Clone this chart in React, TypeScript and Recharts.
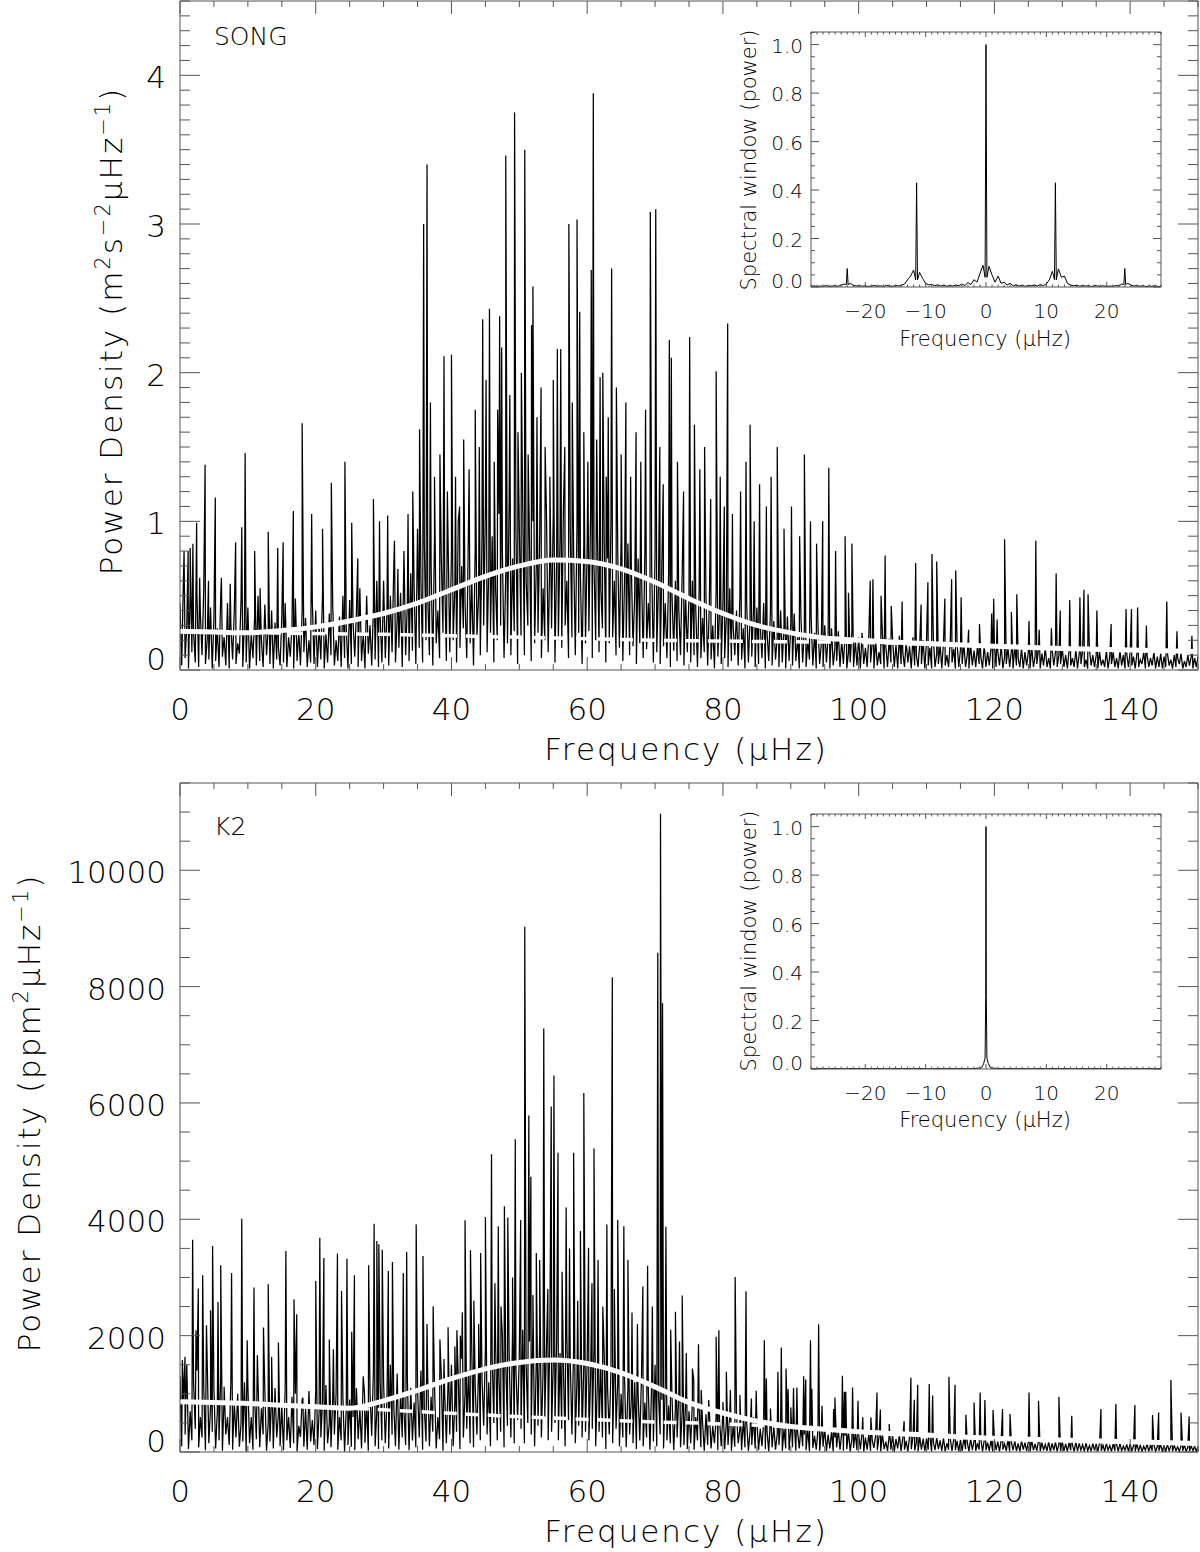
import React from "react";
import { ComposedChart, Line, XAxis, YAxis } from "recharts";

const FONT = "'DejaVu Sans', 'Liberation Sans', sans-serif";
const FRAME = "#555";

// ---------- SONG power density (m^2 s^-2 uHz^-1) ----------
// noise heights on a 0.5 uHz grid, 0..150
const songNoiseHi = [
  0.45, 0.6, 0.3, 0.52, 0.25, 0.5, 0.38, 0.55, 0.2, 0.42,
  0.35, 0.28, 0.5, 0.22, 0.45, 0.3, 0.4, 0.18, 0.48, 0.33,
  0.42, 0.25, 0.36, 0.5, 0.2, 0.44, 0.28, 0.4, 0.32, 0.15,
  0.36, 0.45, 0.22, 0.3, 0.48, 0.26, 0.4, 0.35, 0.2, 0.46,
  0.4, 0.3, 0.52, 0.24, 0.38, 0.44, 0.2, 0.36, 0.5, 0.28,
  0.47, 0.32, 0.4, 0.55, 0.25, 0.5, 0.3, 0.42, 0.6, 0.35,
  0.6, 0.4, 0.5, 0.7, 0.35, 0.52, 0.8, 0.45, 0.65, 0.55,
  0.95, 0.6, 0.85, 0.5, 0.7, 0.9, 0.4, 0.75, 0.62, 0.88,
  0.8, 0.55, 1.0, 0.7, 0.45, 0.95, 0.6, 0.85, 0.5, 0.9,
  1.1, 0.7, 0.9, 0.55, 1.05, 0.8, 0.65, 1.15, 0.75, 0.95,
  0.95, 1.1, 0.6, 0.85, 1.0, 0.7, 0.9, 0.55, 1.05, 0.8,
  1.05, 0.75, 0.9, 1.1, 0.6, 0.95, 0.8, 1.0, 0.65, 0.85,
  0.85, 1.05, 0.7, 0.95, 0.55, 0.9, 0.75, 1.0, 0.6, 0.8,
  0.9, 0.6, 0.85, 0.7, 0.5, 0.75, 0.65, 0.8, 0.45, 0.7,
  0.8, 0.55, 0.7, 0.45, 0.65, 0.5, 0.6, 0.4, 0.65, 0.5,
  0.5, 0.6, 0.4, 0.55, 0.35, 0.5, 0.45, 0.3, 0.55, 0.4,
  0.45, 0.35, 0.55, 0.3, 0.4, 0.5, 0.28, 0.45, 0.35, 0.4,
  0.42, 0.3, 0.45, 0.25, 0.4, 0.33, 0.22, 0.4, 0.3, 0.36,
  0.3, 0.38, 0.22, 0.35, 0.28, 0.2, 0.35, 0.25, 0.3, 0.18,
  0.3, 0.22, 0.28, 0.15, 0.26, 0.2, 0.24, 0.12, 0.26, 0.2,
  0.22, 0.25, 0.15, 0.24, 0.18, 0.2, 0.12, 0.24, 0.16, 0.21,
  0.21, 0.17, 0.23, 0.12, 0.19, 0.16, 0.22, 0.1, 0.18, 0.2,
  0.2, 0.15, 0.22, 0.11, 0.17, 0.19, 0.1, 0.2, 0.14, 0.18,
  0.14, 0.18, 0.1, 0.17, 0.13, 0.16, 0.09, 0.17, 0.12, 0.15,
  0.16, 0.12, 0.17, 0.09, 0.15, 0.13, 0.16, 0.08, 0.15, 0.12,
  0.12, 0.16, 0.09, 0.14, 0.11, 0.15, 0.08, 0.14, 0.12, 0.1,
  0.15, 0.1, 0.13, 0.08, 0.14, 0.11, 0.13, 0.07, 0.14, 0.1,
  0.1, 0.12, 0.07, 0.13, 0.09, 0.12, 0.08, 0.13, 0.1, 0.11,
  0.12, 0.09, 0.11, 0.07, 0.12, 0.1, 0.08, 0.12, 0.09, 0.11,
  0.09, 0.11, 0.07, 0.1, 0.08, 0.11, 0.06, 0.1, 0.09, 0.08,
  0.09,
];
// noise troughs on the offset grid 0.25, 0.75, ... 149.75
const songNoiseLo = [
  0.03, 0.08, 0.01, 0.12, 0.05, 0.02, 0.1, 0.04, 0.07, 0.01,
  0.06, 0.02, 0.09, 0.03, 0.01, 0.07, 0.04, 0.11, 0.02, 0.05,
  0.01, 0.08, 0.03, 0.06, 0.02, 0.1, 0.04, 0.01, 0.07, 0.03,
  0.05, 0.02, 0.09, 0.01, 0.06, 0.03, 0.12, 0.02, 0.05, 0.04,
  0.02, 0.07, 0.01, 0.05, 0.1, 0.03, 0.06, 0.02, 0.08, 0.01,
  0.04, 0.09, 0.02, 0.06, 0.01, 0.11, 0.03, 0.07, 0.02, 0.05,
  0.08, 0.03, 0.12, 0.05, 0.15, 0.02, 0.1, 0.06, 0.13, 0.04,
  0.15, 0.05, 0.2, 0.1, 0.03, 0.18, 0.08, 0.25, 0.06, 0.12,
  0.2, 0.05, 0.15, 0.28, 0.08, 0.18, 0.03, 0.22, 0.1, 0.3,
  0.12, 0.25, 0.05, 0.2, 0.3, 0.08, 0.18, 0.1, 0.26, 0.04,
  0.22, 0.1, 0.3, 0.06, 0.18, 0.25, 0.08, 0.2, 0.12, 0.28,
  0.05, 0.2, 0.15, 0.3, 0.08, 0.22, 0.1, 0.25, 0.04, 0.18,
  0.26, 0.08, 0.2, 0.12, 0.28, 0.05, 0.18, 0.22, 0.1, 0.15,
  0.06, 0.2, 0.1, 0.16, 0.04, 0.18, 0.08, 0.14, 0.2, 0.05,
  0.12, 0.04, 0.16, 0.08, 0.02, 0.13, 0.06, 0.1, 0.03, 0.12,
  0.05, 0.1, 0.02, 0.08, 0.12, 0.03, 0.07, 0.01, 0.09, 0.04,
  0.08, 0.02, 0.06, 0.1, 0.03, 0.07, 0.01, 0.05, 0.09, 0.02,
  0.04, 0.08, 0.01, 0.06, 0.03, 0.07, 0.02, 0.05, 0.01, 0.06,
  0.03, 0.06, 0.01, 0.05, 0.02, 0.07, 0.03, 0.01, 0.04, 0.02,
  0.05, 0.01, 0.03, 0.06, 0.02, 0.04, 0.01, 0.05, 0.02, 0.03,
  0.01, 0.04, 0.02, 0.05, 0.01, 0.03, 0.04, 0.01, 0.02, 0.05,
  0.02, 0.01, 0.04, 0.02, 0.05, 0.01, 0.03, 0.02, 0.04, 0.01,
  0.03, 0.01, 0.02, 0.04, 0.01, 0.03, 0.02, 0.05, 0.01, 0.02,
  0.04, 0.02, 0.01, 0.03, 0.02, 0.04, 0.01, 0.02, 0.03, 0.01,
  0.02, 0.03, 0.01, 0.04, 0.02, 0.01, 0.03, 0.02, 0.01, 0.03,
  0.01, 0.02, 0.04, 0.01, 0.03, 0.02, 0.01, 0.03, 0.02, 0.04,
  0.02, 0.01, 0.03, 0.02, 0.01, 0.04, 0.02, 0.01, 0.03, 0.02,
  0.01, 0.03, 0.02, 0.01, 0.04, 0.02, 0.01, 0.03, 0.01, 0.02,
  0.03, 0.01, 0.02, 0.04, 0.01, 0.02, 0.03, 0.01, 0.02, 0.01,
  0.02, 0.03, 0.01, 0.02, 0.04, 0.01, 0.02, 0.03, 0.01, 0.02,
];

// individual spikes [frequency uHz, power]
const songPeaks = [
  [0.6, 0.8], [1.2, 0.8], [1.5, 0.82], [1.9, 0.85], [2.45, 0.99], [2.9, 0.62], [3.7, 1.38],
  [4.2, 0.6], [5.2, 1.16], [6.1, 0.62], [7.4, 0.58], [8.2, 0.86], [9.1, 0.96], [9.6, 1.46],
  [11.0, 0.8], [11.8, 0.55], [13.0, 0.93], [14.4, 0.82], [15.2, 0.86], [16.7, 1.07],
  [18.0, 1.66], [19.4, 1.05], [21.0, 0.95], [22.3, 1.26], [24.3, 1.4], [25.3, 0.99],
  [26.2, 0.75], [28.5, 1.15], [29.4, 1.0], [30.6, 1.04], [31.6, 0.87], [32.1, 0.68],
  [33.6, 1.05], [34.3, 1.2], [35.3, 1.62], [35.9, 3.0], [36.4, 3.4], [36.9, 1.8],
  [37.5, 1.3], [38.3, 1.45], [38.9, 2.11], [39.4, 1.2], [40.0, 2.12], [40.6, 1.3],
  [41.2, 1.1], [41.8, 1.55], [42.6, 1.35], [43.5, 1.75], [44.1, 1.5], [44.6, 2.36],
  [45.1, 1.95], [45.6, 2.43], [46.3, 1.4], [46.8, 1.75], [47.1, 2.38], [47.4, 2.17],
  [48.0, 3.46], [48.6, 1.85], [49.3, 3.75], [49.8, 1.6], [50.3, 2.0], [50.8, 3.5],
  [51.3, 1.45], [51.8, 2.32], [52.0, 2.58], [52.6, 1.7], [53.2, 1.9], [53.8, 1.5],
  [54.5, 1.3], [55.0, 1.95], [55.6, 2.16], [56.1, 2.16], [56.7, 1.5], [57.3, 3.0],
  [57.8, 1.8], [58.5, 3.03], [58.9, 2.41], [59.5, 1.6], [60.1, 1.4], [60.6, 2.69],
  [60.9, 3.88], [61.4, 1.55], [61.9, 1.97], [62.3, 2.0], [62.8, 1.3], [63.1, 1.7],
  [63.6, 2.7], [64.3, 1.9], [65.0, 1.45], [65.7, 1.8], [66.4, 1.3], [67.2, 1.6],
  [67.9, 1.4], [68.6, 1.75], [69.3, 3.08], [70.1, 3.1], [70.7, 1.5], [71.2, 1.25],
  [72.1, 2.22], [72.4, 2.1], [73.3, 1.4], [74.2, 1.2], [75.1, 2.24], [75.8, 1.65],
  [76.6, 1.35], [77.3, 1.5], [78.2, 1.15], [79.0, 2.01], [79.6, 1.3], [80.2, 1.1],
  [80.7, 2.33], [81.4, 1.05], [82.6, 1.2], [83.4, 1.4], [84.0, 1.65], [84.6, 1.0],
  [85.4, 1.25], [86.4, 1.1], [87.1, 1.3], [88.0, 1.5], [89.0, 0.95], [90.1, 1.1],
  [91.3, 0.9], [92.0, 1.45], [92.9, 1.0], [93.8, 0.85], [94.7, 1.0], [95.6, 1.36],
  [96.6, 0.8], [98.0, 0.9], [98.5, 0.52], [99.0, 0.85], [101.7, 0.6], [102.1, 0.61],
  [103.3, 0.5], [103.9, 0.77], [104.8, 0.43], [106.4, 0.46], [108.4, 0.72], [109.2, 0.44],
  [110.2, 0.59], [110.8, 0.78], [111.5, 0.73], [112.7, 0.48], [113.7, 0.61], [114.3, 0.67],
  [115.1, 0.49], [116.2, 0.27], [117.8, 0.31], [119.6, 0.38], [119.9, 0.48], [120.4, 0.34],
  [121.5, 0.88], [122.5, 0.39], [123.3, 0.51], [125.1, 0.33], [126.1, 0.87], [126.6, 0.27],
  [128.4, 0.28], [129.1, 0.65], [129.7, 0.4], [131.1, 0.47], [132.6, 0.49], [133.2, 0.54],
  [133.8, 0.51], [135.1, 0.4], [137.2, 0.31], [139.4, 0.41], [140.2, 0.41], [141.1, 0.42],
  [142.4, 0.3], [145.4, 0.46], [146.9, 0.26], [149.1, 0.23],
];

const fitFreq = [0, 5, 10, 15, 20, 25, 30, 35, 40, 45, 50, 55, 60, 65, 70, 75, 80, 85, 90, 95, 100, 110, 120, 130, 140, 150];
const songFit = [0.26, 0.255, 0.25, 0.265, 0.29, 0.33, 0.38, 0.45, 0.54, 0.63, 0.7, 0.74, 0.73, 0.68, 0.59, 0.48, 0.38, 0.3, 0.25, 0.215, 0.2, 0.178, 0.16, 0.145, 0.135, 0.125];
const songBg = [0.26, 0.255, 0.25, 0.248, 0.245, 0.242, 0.24, 0.235, 0.23, 0.225, 0.22, 0.215, 0.21, 0.205, 0.2, 0.197, 0.195, 0.192, 0.19, 0.188, 0.186, 0.175, 0.16, 0.145, 0.135, 0.125];

// ---------- K2 power density (ppm^2 uHz^-1) ----------
const k2NoiseHi = [
  1300, 900, 1500, 700, 1200, 1400, 600, 1100, 1600, 800,
  1100, 700, 1300, 950, 600, 1250, 850, 1000, 500, 1200,
  1150, 600, 900, 1200, 750, 1050, 500, 950, 1100, 650,
  800, 1100, 600, 950, 1000, 450, 900, 750, 1050, 550,
  1050, 700, 850, 1150, 500, 900, 1000, 600, 950, 750,
  900, 600, 1100, 750, 1300, 800, 1000, 1400, 700, 1200,
  1200, 900, 1500, 800, 1350, 1000, 700, 1250, 1100, 850,
  1100, 1400, 750, 1300, 950, 1150, 600, 1300, 1000, 1200,
  1500, 900, 1300, 1600, 1000, 1400, 1700, 1100, 1500, 1250,
  1800, 1200, 1600, 1900, 1300, 2000, 1500, 1700, 2100, 1400,
  1700, 2100, 1500, 1900, 2200, 1600, 2000, 1400, 1800, 2100,
  1500, 1900, 1700, 1400, 2000, 1600, 1800, 1300, 1700, 1500,
  1600, 1300, 1800, 1200, 1500, 1700, 1100, 1400, 1600, 1200,
  1000, 1300, 1100, 900, 1200, 1000, 1300, 850, 1100, 1200,
  1500, 1000, 900, 1100, 800, 950, 750, 1000, 700, 850,
  700, 850, 600, 750, 500, 650, 700, 450, 600, 550,
  700, 500, 600, 450, 650, 400, 550, 500, 350, 600,
  550, 400, 500, 350, 600, 450, 300, 500, 400, 450,
  420, 500, 350, 450, 300, 400, 450, 280, 380, 350,
  400, 300, 350, 250, 380, 320, 280, 350, 220, 330,
  300, 340, 250, 310, 200, 290, 260, 310, 180, 280,
  290, 220, 300, 240, 190, 270, 250, 160, 260, 230,
  230, 260, 180, 250, 200, 240, 150, 230, 210, 190,
  210, 240, 170, 230, 190, 150, 220, 200, 160, 210,
  220, 180, 200, 140, 210, 170, 190, 150, 200, 160,
  170, 200, 140, 190, 160, 130, 180, 150, 170, 140,
  180, 140, 160, 120, 170, 150, 130, 160, 110, 150,
  140, 160, 120, 150, 110, 140, 130, 150, 100, 130,
  150, 110, 140, 120, 100, 140, 120, 130, 90, 130,
  110, 130, 100, 120, 90, 110, 120, 80, 110, 100,
  90,
];
const k2NoiseLo = [
  100, 300, 50, 200, 400, 80, 250, 30, 150, 350,
  60, 200, 20, 300, 120, 40, 250, 90, 180, 10,
  150, 40, 220, 80, 300, 20, 180, 60, 250, 100,
  30, 200, 70, 150, 10, 260, 90, 40, 180, 120,
  50, 250, 20, 150, 80, 300, 40, 200, 10, 120,
  90, 30, 220, 60, 160, 20, 280, 100, 50, 200,
  150, 60, 300, 100, 40, 250, 120, 30, 200, 80,
  250, 40, 180, 100, 350, 60, 220, 20, 150, 300,
  100, 350, 50, 250, 400, 150, 80, 300, 200, 450,
  300, 100, 500, 200, 350, 80, 450, 250, 150, 550,
  400, 150, 500, 300, 100, 450, 250, 600, 200, 350,
  500, 200, 400, 100, 550, 300, 150, 450, 250, 350,
  200, 400, 100, 350, 250, 50, 300, 150, 400, 100,
  250, 80, 300, 150, 50, 200, 100, 250, 40, 180,
  100, 300, 60, 200, 150, 30, 250, 80, 120, 50,
  150, 40, 200, 80, 20, 120, 60, 150, 30, 100,
  50, 120, 20, 90, 150, 30, 80, 20, 120, 60,
  30, 100, 50, 10, 80, 40, 120, 20, 60, 30,
  80, 20, 60, 100, 30, 10, 70, 40, 20, 90,
  20, 60, 10, 80, 40, 20, 50, 10, 70, 30,
  50, 10, 40, 20, 70, 30, 10, 50, 20, 40,
  10, 60, 20, 40, 10, 50, 30, 10, 40, 20,
  40, 10, 30, 50, 20, 10, 40, 20, 30, 10,
  20, 50, 10, 30, 20, 40, 10, 30, 20, 10,
  30, 10, 40, 20, 10, 30, 20, 10, 40, 20,
  10, 30, 20, 10, 30, 20, 10, 30, 10, 20,
  20, 10, 30, 10, 20, 30, 10, 20, 10, 30,
  10, 20, 10, 30, 10, 20, 10, 20, 30, 10,
  20, 10, 20, 10, 30, 10, 20, 10, 20, 10,
  10, 20, 10, 20, 10, 20, 10, 10, 20, 10,
];

const k2Peaks = [
  [0.35, 1580], [0.74, 1635], [1.86, 3650], [2.36, 2094], [2.7, 2810], [3.34, 3037],
  [3.9, 2180], [4.5, 2437], [4.8, 3540], [5.6, 2580], [6.0, 3209], [6.5, 1120],
  [7.6, 3077], [9.1, 4010], [9.9, 1922], [10.9, 2826], [11.4, 1665], [12.3, 2140],
  [13.0, 2883], [13.5, 1635], [14.5, 1882], [15.6, 3454], [16.8, 2626], [17.2, 2368],
  [18.1, 932], [20.0, 2940], [20.6, 3684], [21.2, 3335], [22.0, 1934], [22.6, 1768],
  [23.2, 3410], [23.8, 2768], [24.6, 3323], [25.3, 2065], [25.7, 3037], [27.2, 978],
  [27.8, 3209], [28.6, 3925], [29.0, 3627], [29.3, 3570], [29.8, 3478], [30.7, 3112],
  [31.3, 3266], [32.9, 3078], [33.4, 3440], [34.8, 3912], [35.8, 3368], [36.4, 2200],
  [37.3, 2505], [38.3, 1934], [38.9, 1600], [39.5, 2145], [40.5, 1812], [40.8, 2094],
  [41.3, 2000], [41.6, 2400], [42.0, 3985], [42.8, 3470], [43.3, 2600], [44.0, 2200],
  [44.3, 3420], [45.0, 4040], [45.9, 5120], [46.4, 2900], [46.9, 3880], [47.3, 2500],
  [47.8, 4223], [48.3, 4030], [49.0, 3000], [49.4, 5375], [50.2, 3990], [50.8, 9030],
  [51.4, 5786], [51.7, 4730], [52.0, 2700], [52.5, 3420], [53.0, 3300], [53.6, 7280],
  [54.2, 2800], [54.7, 5940], [55.1, 6470], [55.7, 5143], [56.3, 3100], [56.9, 4205],
  [57.4, 3500], [58.0, 5143], [58.6, 2600], [59.0, 3800], [59.5, 6171], [60.2, 3510],
  [60.7, 2900], [61.0, 5217], [61.6, 3300], [62.3, 2500], [62.9, 3910], [63.7, 8160],
  [64.0, 2800], [64.5, 3990], [65.4, 3880], [66.0, 3300], [66.6, 2400], [67.4, 2200],
  [68.2, 2846], [68.9, 3200], [69.6, 2500], [70.4, 8582], [70.8, 10970], [71.1, 7713],
  [71.6, 3870], [72.3, 2100], [73.0, 2410], [73.6, 1900], [74.0, 2690], [74.6, 1700],
  [75.5, 1436], [75.7, 1236], [76.4, 1853], [76.8, 1064], [77.9, 892], [79.0, 1979],
  [79.4, 2094], [80.0, 858], [80.5, 1378], [81.1, 1064], [81.8, 3009], [82.5, 978],
  [83.4, 2763], [84.2, 920], [84.9, 1052], [86.1, 1922], [86.4, 1264], [87.0, 749],
  [88.1, 1378], [88.6, 1796], [89.3, 1436], [89.6, 1081], [90.0, 767], [90.4, 1098],
  [90.9, 1110], [91.9, 1304], [92.2, 1247], [92.9, 1922], [93.1, 1087], [94.1, 2196],
  [94.6, 795], [96.3, 738], [96.5, 938], [97.6, 1310], [97.9, 1035], [98.1, 1035],
  [99.1, 1110], [99.9, 880], [100.6, 595], [101.8, 595], [102.7, 1024], [103.2, 732],
  [104.5, 480], [106.7, 530], [107.7, 1276], [108.2, 898], [108.7, 1155], [110.4, 1167],
  [110.9, 972], [113.3, 1293], [114.2, 1155], [115.8, 640], [117.0, 852], [117.9, 1024],
  [118.6, 892], [119.8, 720], [121.2, 738], [122.3, 652], [125.1, 1024], [126.5, 880],
  [129.5, 950], [131.4, 623], [135.7, 738], [137.9, 823], [140.7, 806], [143.3, 635],
  [144.2, 680], [146.0, 1236], [147.5, 680], [148.7, 612],
];

const k2Fit = [865, 850, 835, 805, 778, 752, 880, 1060, 1260, 1430, 1540, 1580, 1520, 1360, 1120, 850, 670, 530, 440, 390, 350, 292, 235, 206, 177, 148];
const k2Bg = [865, 850, 835, 805, 778, 752, 725, 695, 665, 636, 606, 583, 560, 538, 515, 503, 480, 460, 430, 395, 350, 292, 235, 206, 177, 148];

// ---------- spectral windows ----------
// SONG window, 0.5 uHz grid, -29..29
const songWin = [
  0.003, 0.005, 0.002, 0.004, 0.003, 0.006, 0.002, 0.004, 0.005, 0.003,
  0.008, 0.012, 0.076, 0.015, 0.007, 0.004, 0.006, 0.003, 0.005, 0.002,
  0.004, 0.006, 0.003, 0.005, 0.002, 0.007, 0.004, 0.003, 0.006, 0.004,
  0.008, 0.012, 0.03, 0.045, 0.07, 0.43, 0.06, 0.035, 0.015, 0.008,
  0.011, 0.005, 0.009, 0.004, 0.007, 0.003, 0.006, 0.004, 0.008, 0.005,
  0.012, 0.006, 0.018, 0.01, 0.03, 0.02, 0.055, 0.09, 1.0, 0.085,
  0.05, 0.02, 0.045, 0.015, 0.02, 0.008, 0.015, 0.005, 0.009, 0.004,
  0.007, 0.003, 0.006, 0.005, 0.008, 0.004, 0.01, 0.006, 0.012, 0.03,
  0.065, 0.43, 0.075, 0.04, 0.045, 0.015, 0.008, 0.005, 0.007, 0.003,
  0.006, 0.004, 0.005, 0.002, 0.006, 0.004, 0.003, 0.005, 0.002, 0.004,
  0.003, 0.006, 0.004, 0.012, 0.076, 0.015, 0.008, 0.004, 0.006, 0.003,
  0.005, 0.002, 0.004, 0.003, 0.005, 0.002, 0.003,
];
const songWinFlanks = [
  [-23.15, 0.01], [-22.85, 0.01], [-11.65, 0.03], [-11.35, 0.03],
  [-0.15, 0.04], [0.15, 0.04], [11.35, 0.03], [11.65, 0.03], [22.85, 0.01], [23.15, 0.01],
];

// K2 window, 1 uHz grid, -29..29
const k2Win = [
  0.002, 0.001, 0.002, 0.001, 0.002, 0.001, 0.001, 0.002, 0.001, 0.002,
  0.001, 0.002, 0.001, 0.001, 0.002, 0.001, 0.002, 0.001, 0.002, 0.001,
  0.001, 0.002, 0.001, 0.002, 0.001, 0.002, 0.001, 0.002, 0.004, 1.0,
  0.004, 0.002, 0.001, 0.002, 0.001, 0.002, 0.001, 0.001, 0.002, 0.001,
  0.002, 0.001, 0.002, 0.001, 0.001, 0.002, 0.001, 0.002, 0.001, 0.002,
  0.001, 0.001, 0.002, 0.001, 0.002, 0.001, 0.002, 0.001, 0.002,
];
const k2WinFlanks = [
  [-0.7, 0.006], [-0.4, 0.022], [-0.15, 0.045], [-0.05, 0.3],
  [0.05, 0.3], [0.15, 0.045], [0.4, 0.022], [0.7, 0.006],
];

// ---------- ticks ----------
const mainXMajor = [0, 20, 40, 60, 80, 100, 120, 140];
const songYMajor = [0, 1, 2, 3, 4];
const k2YMajor = [0, 2000, 4000, 6000, 8000, 10000];
const winXMajor = [-20, -10, 0, 10, 20];
const winYMajor = [0, 0.2, 0.4, 0.6, 0.8, 1.0];

const steps = (from: number, to: number, step: number) => {
  const out: number[] = [];
  for (let i = 0; from + i * step <= to + 1e-9; i++) out.push(Math.round((from + i * step) * 1000) / 1000);
  return out;
};

type Row = { f: number; p: number };
const onGrid = (start: number, step: number, vals: number[]): Row[] =>
  vals.map((p, i) => ({ f: Math.round((start + i * step) * 100) / 100, p }));
const fromPairs = (pairs: number[][]): Row[] => pairs.map(([f, p]) => ({ f, p }));
const byFreq = (...parts: Row[][]) => parts.flat().sort((a, b) => a.f - b.f);

const songSpectrum = byFreq(onGrid(0, 0.5, songNoiseHi), onGrid(0.25, 0.5, songNoiseLo), fromPairs(songPeaks));
const k2Spectrum = byFreq(onGrid(0, 0.5, k2NoiseHi), onGrid(0.25, 0.5, k2NoiseLo), fromPairs(k2Peaks));
const songFitRows = fitFreq.map((f, i) => ({ f, p: songFit[i] }));
const songBgRows = fitFreq.map((f, i) => ({ f, p: songBg[i] }));
const k2FitRows = fitFreq.map((f, i) => ({ f, p: k2Fit[i] }));
const k2BgRows = fitFreq.map((f, i) => ({ f, p: k2Bg[i] }));
const songWinRows = byFreq(onGrid(-29, 0.5, songWin), fromPairs(songWinFlanks));
const k2WinRows = byFreq(onGrid(-29, 1, k2Win), fromPairs(k2WinFlanks));

type TickCfg = {
  side: "bottom" | "top" | "left" | "right";
  major: number[];
  majorLen: number;
  minorLen: number;
  format?: (v: number) => string;
  fontSize?: number;
  gap?: number;
  dy?: number;
  zeroDy?: number;
};

function makeTick(cfg: TickCfg) {
  return (props: any) => {
    const { x, y, payload } = props;
    const v = payload.value as number;
    const isMajor = cfg.major.some((m) => Math.abs(m - v) < 1e-6);
    const len = isMajor ? cfg.majorLen : cfg.minorLen;
    const l = { x1: x, y1: y, x2: x, y2: y };
    if (cfg.side === "bottom") l.y2 = y - len;
    if (cfg.side === "top") l.y2 = y + len;
    if (cfg.side === "left") l.x2 = x + len;
    if (cfg.side === "right") l.x2 = x - len;
    let label = null;
    if (isMajor && cfg.format) {
      const common = { fontFamily: FONT, fontWeight: 300, fontSize: cfg.fontSize, fill: "#000" };
      if (cfg.side === "bottom") {
        label = (
          <text x={x} y={y + (cfg.gap || 0)} textAnchor="middle" {...common}>
            {cfg.format(v)}
          </text>
        );
      } else if (cfg.side === "left") {
        label = (
          <text x={x - (cfg.gap || 0)} y={y + (v === 0 ? cfg.zeroDy || 0 : cfg.dy || 0)} textAnchor="end" {...common}>
            {cfg.format(v)}
          </text>
        );
      }
    }
    return (
      <g>
        <line {...l} stroke={FRAME} strokeWidth={1} />
        {label}
      </g>
    );
  };
}

const minus = (s: string) => s.replace("-", "\u2212");

const axisCommon = {
  type: "number" as const,
  allowDataOverflow: true,
  interval: 0 as const,
  tickSize: 0,
  tickMargin: 0,
  tickLine: false,
  axisLine: { stroke: FRAME, strokeWidth: 1 },
};

function SpectrumPanel(props: {
  top: number;
  spectrum: Row[];
  fit: Row[];
  bg: Row[];
  yMax: number;
  yMajor: number[];
  yMinorStep: number;
}) {
  const { top, spectrum, fit, bg, yMax, yMajor, yMinorStep } = props;
  const xTicks = steps(0, 150, 5);
  const yTicks = steps(0, yMax, yMinorStep);
  return (
    <div style={{ position: "absolute", left: 0, top, width: 1200, height: 770 }}>
      <ComposedChart width={1200} height={770} margin={{ top: 0, right: 1, bottom: 0, left: 0 }}>
        <XAxis
          xAxisId="b"
          dataKey="f"
          domain={[0, 150]}
          ticks={xTicks}
          height={100}
          tick={makeTick({ side: "bottom", major: mainXMajor, majorLen: 13, minorLen: 6, format: (v) => String(v), fontSize: 31, gap: 50 })}
          {...axisCommon}
        />
        <XAxis
          xAxisId="t"
          orientation="top"
          dataKey="f"
          domain={[0, 150]}
          ticks={xTicks}
          height={1}
          tick={makeTick({ side: "top", major: mainXMajor, majorLen: 13, minorLen: 6 })}
          {...axisCommon}
        />
        <YAxis
          yAxisId="l"
          domain={[0, yMax]}
          ticks={yTicks}
          width={180}
          tick={makeTick({ side: "left", major: yMajor, majorLen: 20, minorLen: 10, format: (v) => String(v), fontSize: 31, gap: 14, dy: 13, zeroDy: 0 })}
          {...axisCommon}
        />
        <YAxis
          yAxisId="r"
          orientation="right"
          domain={[0, yMax]}
          ticks={yTicks}
          width={1}
          tick={makeTick({ side: "right", major: yMajor, majorLen: 20, minorLen: 10 })}
          {...axisCommon}
        />
        <Line xAxisId="b" yAxisId="l" data={spectrum} dataKey="p" type="linear" stroke="#000" strokeWidth={1.25} dot={false} activeDot={false} isAnimationActive={false} />
        <Line xAxisId="t" yAxisId="r" data={bg} dataKey="p" type="monotone" stroke="#fff" strokeWidth={3.5} strokeDasharray="13 9" dot={false} activeDot={false} isAnimationActive={false} />
        <Line xAxisId="b" yAxisId="l" data={fit} dataKey="p" type="monotone" stroke="#fff" strokeWidth={5} dot={false} activeDot={false} isAnimationActive={false} />
      </ComposedChart>
    </div>
  );
}

function WindowInset(props: { top: number; rows: Row[] }) {
  const { top, rows } = props;
  const xTicks = steps(-29, 29, 1);
  const yTicks = steps(0, 1.05, 0.05);
  const fmtY = (v: number) => v.toFixed(1);
  const fmtX = (v: number) => minus(String(v));
  return (
    <div style={{ position: "absolute", left: 700, top, width: 500, height: 360 }}>
      <ComposedChart width={500} height={360} margin={{ top: 31, right: 38, bottom: 0, left: 0 }}>
        <XAxis
          xAxisId="b"
          dataKey="f"
          domain={[-29, 29]}
          ticks={xTicks}
          height={73}
          tick={makeTick({ side: "bottom", major: winXMajor, majorLen: 5, minorLen: 2.5, format: fmtX, fontSize: 20, gap: 31 })}
          {...axisCommon}
        />
        <XAxis
          xAxisId="t"
          orientation="top"
          dataKey="f"
          domain={[-29, 29]}
          ticks={xTicks}
          height={1}
          tick={makeTick({ side: "top", major: winXMajor, majorLen: 5, minorLen: 2.5 })}
          {...axisCommon}
        />
        <YAxis
          yAxisId="l"
          domain={[0, 1.052]}
          ticks={yTicks}
          width={111}
          tick={makeTick({ side: "left", major: winYMajor, majorLen: 8, minorLen: 4, format: fmtY, fontSize: 20, gap: 8, dy: 8, zeroDy: 1 })}
          {...axisCommon}
        />
        <YAxis
          yAxisId="r"
          orientation="right"
          domain={[0, 1.052]}
          ticks={yTicks}
          width={1}
          tick={makeTick({ side: "right", major: winYMajor, majorLen: 8, minorLen: 4 })}
          {...axisCommon}
        />
        <Line xAxisId="b" yAxisId="l" data={rows} dataKey="p" type="linear" stroke="#000" strokeWidth={1} dot={false} activeDot={false} isAnimationActive={false} />
        <Line xAxisId="t" yAxisId="r" data={rows} dataKey="p" type="linear" stroke="none" dot={false} activeDot={false} isAnimationActive={false} />
      </ComposedChart>
    </div>
  );
}

const SUP = 21;

function Titles() {
  const t = { fontFamily: FONT, fontWeight: 300, fill: "#000" };
  const big = { ...t, fontSize: 31, letterSpacing: 2 };
  return (
    <svg width={1200} height={1552} style={{ position: "absolute", left: 0, top: 0, pointerEvents: "none" }}>
      <text x={214} y={45} fontSize={25} {...t}>SONG</text>
      <text x={214} y={835} fontSize={25} {...t}>K2</text>

      <text x={686} y={760} textAnchor="middle" {...big}>Frequency (μHz)</text>
      <text x={686} y={1542} textAnchor="middle" {...big}>Frequency (μHz)</text>

      <text transform="translate(122,331) rotate(-90)" textAnchor="middle" {...big}>
        Power Density (m<tspan dy={-12} fontSize={SUP}>2</tspan>
        <tspan dy={12}>s</tspan>
        <tspan dy={-12} fontSize={SUP}>−2</tspan>
        <tspan dy={12}>μHz</tspan>
        <tspan dy={-12} fontSize={SUP}>−1</tspan>
        <tspan dy={12}>)</tspan>
      </text>
      <text transform="translate(40,1113) rotate(-90)" textAnchor="middle" {...big}>
        Power Density (ppm<tspan dy={-12} fontSize={SUP}>2</tspan>
        <tspan dy={12}>μHz</tspan>
        <tspan dy={-12} fontSize={SUP}>−1</tspan>
        <tspan dy={12}>)</tspan>
      </text>

      <text x={985} y={346} fontSize={21} textAnchor="middle" {...t}>Frequency (μHz)</text>
      <text x={985} y={1127} fontSize={21} textAnchor="middle" {...t}>Frequency (μHz)</text>
      <text transform="translate(756,160) rotate(-90)" fontSize={21} textAnchor="middle" {...t}>Spectral window (power)</text>
      <text transform="translate(756,941) rotate(-90)" fontSize={21} textAnchor="middle" {...t}>Spectral window (power)</text>
    </svg>
  );
}

export default function App() {
  return (
    <div style={{ position: "absolute", left: 0, top: 0, width: 1200, height: 1552, background: "#fff" }}>
      <SpectrumPanel top={0} spectrum={songSpectrum} fit={songFitRows} bg={songBgRows} yMax={4.5} yMajor={songYMajor} yMinorStep={0.1} />
      <SpectrumPanel top={782} spectrum={k2Spectrum} fit={k2FitRows} bg={k2BgRows} yMax={11500} yMajor={k2YMajor} yMinorStep={500} />
      <WindowInset top={0} rows={songWinRows} />
      <WindowInset top={782} rows={k2WinRows} />
      <Titles />
    </div>
  );
}
